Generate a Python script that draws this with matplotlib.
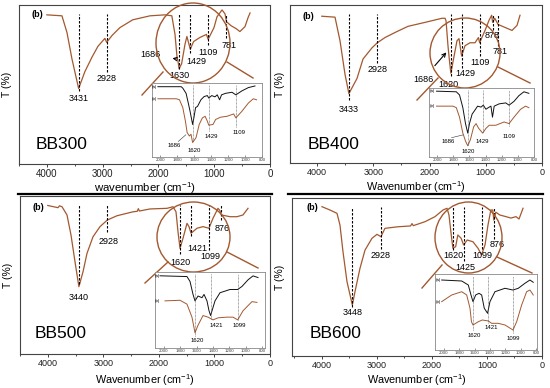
import numpy as np
import matplotlib
matplotlib.use("Agg")
from matplotlib import pyplot as plt
from matplotlib.patches import Ellipse
from matplotlib.ticker import MultipleLocator

plt.rcParams['font.family'] = ['Liberation Sans', 'DejaVu Sans']
plt.rcParams['mathtext.fontset'] = 'custom'
plt.rcParams['mathtext.rm'] = 'Liberation Sans'
plt.rcParams['mathtext.it'] = 'Liberation Sans:italic'
plt.rcParams['mathtext.bf'] = 'Liberation Sans:bold'

W, H = 550, 388
BROWN = "#a3582f"

####################################### main spectra (wavenumber, T) ################################
bb300_wn = [4000, 3730, 3640, 3550, 3431, 3320, 3190, 3085, 2960, 2928, 2830, 2690, 2460, 2150, 1880,
            1760, 1703, 1667, 1650, 1630, 1585, 1524, 1490, 1429, 1370, 1255, 1140, 1109, 1004, 950,
            860, 806, 781, 699, 610, 540, 448, 394, 358]
bb300_t = [93.8, 93.2, 82.7, 66, 47.5, 58, 67.3, 74, 79, 76.5, 80.9, 85.8, 90.7, 93.2, 93.8,
           93.2, 81.5, 67.3, 64.8, 59.9, 63, 75.3, 80.2, 72.2, 77, 79.6, 81.5, 78.4, 85.8, 92.6,
           96.9, 94.4, 89.5, 87, 85.2, 83.3, 86.4, 92, 95]

bb400_wn = [3915, 3680, 3591, 3502, 3433, 3289, 3182, 3022, 2928, 2791, 2613, 2382, 2080, 1778, 1724,
            1706, 1671, 1640, 1620, 1580, 1511, 1475, 1429, 1369, 1280, 1191, 1130, 1109, 1013, 942,
            895, 878, 840, 781, 657, 533, 444, 391]
bb400_t = [92.9, 92.3, 77.4, 56.1, 43.9, 53.5, 65.8, 72.9, 76.1, 79.4, 82.6, 86.5, 89, 91.6, 91.6,
           90, 74, 63, 56.8, 64.5, 77.4, 78.7, 67.7, 74.2, 76.1, 76.1, 79.4, 76.1, 83.9, 90.3,
           93.5, 89, 91.6, 87.7, 85.8, 83.9, 87.1, 93.5]

bb500_wn = [4000, 3816, 3790, 3744, 3654, 3582, 3510, 3440, 3366, 3294, 3186, 3060, 2928, 2754, 2466,
            2390, 2370, 2350, 2160, 1854, 1746, 1692, 1656, 1620, 1566, 1494, 1458, 1421, 1314, 1206,
            1099, 1026, 936, 905, 876, 720, 594, 486, 396]
bb500_t = [94, 92.6, 93.8, 93.2, 88, 75.3, 58.4, 42.6, 52, 63.7, 74.2, 80.6, 84.8, 87.5, 90,
           90.3, 92, 90.5, 91.8, 92.2, 93.2, 90, 77.4, 66.9, 73.2, 82.7, 80.6, 76.4, 79.6, 80.6,
           79.6, 85.9, 92.2, 91, 88, 86.9, 86.9, 88, 92.2]

bb600_wn = [4000, 3855, 3800, 3727, 3673, 3618, 3545, 3448, 3400, 3309, 3218, 3091, 3000, 2928, 2855,
            2618, 2390, 2364, 2340, 2127, 1945, 1800, 1727, 1691, 1650, 1620, 1570, 1530, 1470, 1425,
            1360, 1255, 1164, 1099, 1036, 982, 930, 895, 876, 840, 764, 655, 564, 473, 418, 345]
bb600_t = [94.5, 92.4, 91.5, 90.3, 82.9, 66, 47, 32.3, 40.7, 55.5, 67, 74.5, 77, 75.5, 80.8,
           81.8, 82.3, 83.8, 82.5, 85, 88.2, 92.4, 93.5, 89.2, 76.6, 68.2, 69.2, 76.6, 74.5, 70.3,
           73.4, 72.3, 68.2, 64, 70.3, 82.9, 92.4, 92.4, 86, 91, 89.2, 88.2, 87.3, 88.2, 86.7, 93.5]

####################################### peaks and their labels ################################
bb300_peaks = [3431, 2928, 1630, 1429, 1109, 781]
bb300_dash_lo = [46, 58, 60, 70, 75, 79]
bb300_lab = ["3431", "2928", "1630", "1429", "1109", "781"]
bb300_lab_wn = [3431, 2928, 1630, 1326, 1111, 735]
bb300_lab_t = [41.4, 53.7, 55.6, 64.2, 70.4, 74.7]

bb400_peaks = [3433, 2928, 1620, 1429, 1109, 878, 781]
bb400_dash_lo = [40, 63, 55, 60, 68, 84, 74]
bb400_lab = ["3433", "2928", "1620", "1429", "1109", "878", "781"]
bb400_lab_wn = [3433, 2928, 1660, 1369, 1102, 889, 747]
bb400_lab_t = [34, 59, 49.5, 56.8, 63.9, 80.6, 70.3]

bb500_peaks = [3440, 2928, 1620, 1421, 1099, 876]
bb500_dash_lo = [44, 77, 63, 75, 66, 85]
bb500_lab = ["3440", "2928", "1620", "1421", "1099", "876"]
bb500_lab_wn = [3440, 2910, 1620, 1310, 1080, 864]
bb500_lab_t = [36, 70.9, 57.6, 67, 62, 79.7]

bb600_peaks = [3448, 2928, 1620, 1425, 1099, 876]
bb600_dash_lo = [31, 68, 67, 60, 68, 74]
bb600_lab = ["3448", "2928", "1620", "1425", "1099", "876"]
bb600_lab_wn = [3448, 2928, 1618, 1387, 1080, 820]
bb600_lab_t = [27.8, 63.9, 63.9, 55.7, 63.5, 70.5]

####################################### inset spectra: (a) black, (b) brown ################################
in300_a_wn = [2030, 1755, 1736, 1697, 1667, 1650, 1620, 1605, 1585, 1562, 1522, 1484, 1446, 1429, 1394,
              1356, 1329, 1301, 1278, 1232, 1155, 1109, 1038, 961, 883]
in300_a_t = [95, 95, 93, 86, 70.7, 61.7, 44, 53, 66.7, 68.4, 77.3, 81.7, 83, 79.6, 83,
             81.3, 84, 77.3, 84, 86, 87.5, 84, 89.3, 93.8, 96]
in300_b_wn = [2030, 1813, 1775, 1736, 1705, 1685, 1658, 1639, 1620, 1580, 1542, 1504, 1472, 1446, 1429,
              1379, 1348, 1290, 1213, 1135, 1109, 1038, 961, 903, 864]
in300_b_t = [78.7, 78.7, 77.3, 66.7, 48.4, 33, 28.4, 30.7, 19.6, 26, 44, 52.9, 55, 48.4, 43,
             44, 50.7, 53.8, 55, 58.2, 52.9, 61.7, 72.9, 78.7, 77.3]
in300_peaks = [1620, 1429, 1109]
in300_dash_lo = [22, 35, 40]
in300_lab = ["1686", "1620", "1429", "1109"]
in300_lab_wn = [1833, 1600, 1403, 1077]
in300_lab_t = [16, 9.3, 28, 33]

in400_a_wn = [2007, 1762, 1722, 1681, 1648, 1620, 1599, 1566, 1538, 1498, 1456, 1428, 1395, 1366, 1333,
              1314, 1293, 1232, 1150, 1109, 1048, 987, 925, 864]
in400_a_t = [95.4, 94.5, 89.9, 71.5, 48.4, 34.6, 48.4, 62.2, 66.8, 73.7, 72.3, 75.1, 69.2, 71.5, 73.7,
             57.7, 73.7, 77, 78.4, 75.1, 80.6, 88.9, 94.5, 92.3]
in400_b_wn = [2007, 1804, 1762, 1722, 1681, 1648, 1620, 1587, 1547, 1517, 1485, 1435, 1395, 1354, 1272,
              1170, 1109, 1048, 966, 905, 864]
in400_b_t = [73.7, 73.7, 71.5, 57.7, 34.6, 23.1, 16.2, 25.3, 43.8, 48.4, 41.5, 34.6, 41.5, 46, 46,
             50.8, 48.4, 57.7, 69.2, 73.7, 71.5]
in400_peaks = [1620, 1429, 1109]
in400_dash_lo = [18, 36, 45]
in400_lab = ["1686", "1620", "1429", "1109"]
in400_lab_wn = [1865, 1620, 1436, 1109]
in400_lab_t = [23, 8, 23, 30]

in500_a_wn = [2047, 1718, 1681, 1644, 1620, 1583, 1535, 1510, 1474, 1449, 1430, 1376, 1315, 1193, 1099,
              1047, 973, 912, 851]
in500_a_t = [95, 94, 87.6, 70.5, 62, 68.4, 66.2, 70.5, 62, 49, 42.7, 62, 72.7, 77, 77,
             81, 89.7, 94.9, 92.7]
in500_b_wn = [1986, 1803, 1718, 1657, 1620, 1583, 1522, 1461, 1400, 1339, 1230, 1156, 1099, 1034, 925, 864]
in500_b_t = [62, 62.8, 57.7, 40.6, 20, 30, 42.7, 40.6, 37, 39.7, 40.6, 40.6, 37, 49, 61, 60]
in500_peaks = [1620, 1421, 1099]
in500_dash_lo = [16, 38, 37]
in500_lab = ["1620", "1421", "1099"]
in500_lab_wn = [1596, 1364, 1083]
in500_lab_t = [10.3, 29.5, 29.5]

in600_a_wn = [2028, 1767, 1681, 1646, 1620, 1585, 1542, 1507, 1473, 1430, 1399, 1334, 1203, 1099, 1030,
              943, 878, 835]
in600_a_t = [92.1, 90.8, 85.5, 72.4, 63.6, 72.4, 74.6, 72.4, 54.9, 48.3, 63.6, 76.7, 81.2, 78.9, 81.2,
             87.8, 92.1, 89.1]
in600_b_wn = [2028, 1897, 1767, 1702, 1659, 1640, 1620, 1551, 1499, 1421, 1377, 1291, 1203, 1099, 1051,
              986, 921, 878, 835]
in600_b_t = [63.6, 72.4, 76.7, 72.4, 54.9, 37.2, 32.9, 37.2, 39.5, 38.2, 35.1, 35.1, 32.9, 26.3, 37.2,
             59.2, 76.7, 78.9, 72.4]
in600_peaks = [1620, 1421, 1099]
in600_dash_lo = [26, 35, 22]
in600_lab = ["1620", "1421", "1099"]
in600_lab_wn = [1607, 1386, 1095]
in600_lab_t = [19.7, 29, 14.5]

inset_ticks = [2000, 1800, 1600, 1400, 1200, 1000, 800]
main_ticks = [4000, 3000, 2000, 1000, 0]
############################################################################################

fig = plt.figure(figsize=(W / 100, H / 100), dpi=100)


def px_rect(l, t, r, b):
    return [l / W, 1 - b / H, (r - l) / W, (b - t) / H]


def main_panel(rect, xmax, wn, t, peaks, dash_lo, lab, lab_wn, lab_t, name, name_xy, b_xy,
               xlabel, ylab_x, xlab_y, tick_fs, xlab_fs):
    ax = fig.add_axes(px_rect(*rect), zorder=0)
    ax.plot(wn, t, color=BROWN, lw=0.9)
    ax.vlines(peaks, dash_lo, 94.5, colors="k", linestyles=(0, (2.2, 1.4)), lw=0.8)
    for s, x, y in zip(lab, lab_wn, lab_t):
        ax.text(x, y, s, fontsize=6.5, ha="center", va="center")
    ax.text(b_xy[0], b_xy[1], "(b)", fontsize=6.5, fontweight="bold", ha="center", va="center")
    ax.text(name_xy[0], name_xy[1], name, fontsize=12.5, transform=ax.transAxes, ha="left", va="center")
    ax.set_xlim(xmax, 0)
    ax.set_ylim(0, 100)
    ax.set_yticks([])
    ax.set_xticks(main_ticks)
    ax.xaxis.set_minor_locator(MultipleLocator(500))
    ax.tick_params(axis="x", which="major", direction="out", length=2.5, width=0.6, pad=1.2,
                   labelsize=tick_fs, colors="#222")
    ax.tick_params(axis="x", which="minor", direction="out", length=1.5, width=0.5)
    for sp in ax.spines.values():
        sp.set_color("#444")
        sp.set_linewidth(0.8)
    ax.set_xlabel(xlabel, fontsize=xlab_fs)
    ax.xaxis.set_label_coords(0.5, xlab_y)
    ax.set_ylabel("T (%)", fontsize=7.5)
    ax.yaxis.set_label_coords(ylab_x, 0.5)
    return ax


def inset_panel(rect, xlim, a_wn, a_t, b_wn, b_t, peaks, dash_lo, lab, lab_wn, lab_t, ab_x):
    ax = fig.add_axes(px_rect(*rect), zorder=2)
    ax.set_facecolor("white")
    ax.plot(a_wn, a_t, color="#111", lw=0.7)
    ax.plot(b_wn, b_t, color=BROWN, lw=0.7)
    ax.vlines(peaks, dash_lo, 97, colors="#555", linestyles=(0, (1, 1)), lw=0.5)
    ax.text(ab_x, a_t[0], "(a)", fontsize=3.2, ha="center", va="center")
    ax.text(ab_x, b_t[0], "(b)", fontsize=3.2, ha="center", va="center")
    for s, x, y in zip(lab, lab_wn, lab_t):
        ax.text(x, y, s, fontsize=4.3, ha="center", va="center")
    ax.set_xlim(*xlim)
    ax.set_ylim(0, 100)
    ax.set_yticks([])
    ax.set_xticks(inset_ticks)
    ax.tick_params(axis="x", direction="in", length=1.2, width=0.4, pad=0.8, labelsize=3.2,
                   colors="#444")
    for sp in ax.spines.values():
        sp.set_color("#888")
        sp.set_linewidth(0.6)
    return ax


ax1 = main_panel((19, 5, 270, 164), 4500, bb300_wn, bb300_t, bb300_peaks, bb300_dash_lo,
                 bb300_lab, bb300_lab_wn, bb300_lab_t, "BB300", (0.065, 0.12), (4177, 93.8),
                 r"wavenumber (cm$^{-1}$)", -0.028, -0.104, 7, 8.2)
ax1.annotate("1686", xy=(1667, 66), xytext=(2151, 69), fontsize=6.5, ha="center", va="center",
             arrowprops=dict(arrowstyle="<-", color="k", lw=0.7, shrinkA=7, shrinkB=0))

ax2 = main_panel((290, 5, 542, 163), 4480, bb400_wn, bb400_t, bb400_peaks, bb400_dash_lo,
                 bb400_lab, bb400_lab_wn, bb400_lab_t, "BB400", (0.07, 0.12), (4160, 93),
                 r"Wavenumber (cm$^{-1}$)", -0.02, -0.105, 6.5, 7.8)
ax2.annotate("1686", xy=(1700, 70), xytext=(2115, 53), fontsize=6.5, ha="center", va="center",
             arrowprops=dict(arrowstyle="->", color="k", lw=0.8, shrinkA=6, shrinkB=0))

ax3 = main_panel((20, 196, 270, 354), 4500, bb500_wn, bb500_t, bb500_peaks, bb500_dash_lo,
                 bb500_lab, bb500_lab_wn, bb500_lab_t, "BB500", (0.06, 0.13), (4176, 93),
                 r"Wavenumber (cm$^{-1}$)", -0.028, -0.115, 6.5, 7.8)

ax4 = main_panel((292, 198, 542, 356), 4545, bb600_wn, bb600_t, bb600_peaks, bb600_dash_lo,
                 bb600_lab, bb600_lab_wn, bb600_lab_t, "BB600", (0.07, 0.14), (4182, 94),
                 r"Wavenumber (cm$^{-1}$)", -0.028, -0.105, 6.5, 7.8)

# zoom circles, connector lines and the frame lines between panels
ov = fig.add_axes([0, 0, 1, 1], zorder=1)
ov.set_xlim(0, W)
ov.set_ylim(H, 0)
ov.axis("off")
ov.patch.set_alpha(0)
for cx, cy, w, h in [(193, 43, 74, 80), (465, 53, 70, 70), (193.5, 237, 73, 70), (468.5, 237.5, 67, 71)]:
    ov.add_patch(Ellipse((cx, cy), w, h, fill=False, ec=BROWN, lw=1.0))
for (x1, y1, x2, y2) in [(142, 95, 163, 72), (227, 62, 253, 78), (417, 100, 438, 78), (498, 67, 530, 83),
                         (145, 283, 168, 262), (227, 252, 258, 268), (422, 288, 442, 265),
                         (497, 257, 532, 273)]:
    ov.plot([x1, x2], [y1, y2], color=BROWN, lw=1.0)
ov.plot([18, 272], [194, 194], color="k", lw=1.6)
ov.plot([288, 543], [194, 194], color="k", lw=1.6)

i1 = inset_panel((152, 83, 262, 157), (2100, 820), in300_a_wn, in300_a_t, in300_b_wn, in300_b_t,
                 in300_peaks, in300_dash_lo, in300_lab, in300_lab_wn, in300_lab_t, 2070)
i1.plot([1790, 1700], [21, 30], color="#333", lw=0.4)
i2 = inset_panel((429, 88, 534, 157), (2100, 815), in400_a_wn, in400_a_t, in400_b_wn, in400_b_t,
                 in400_peaks, in400_dash_lo, in400_lab, in400_lab_wn, in400_lab_t, 2060)
i2.plot([1820, 1680], [28, 32], color="#333", lw=0.4)
i3 = inset_panel((155, 272, 265, 348), (2108, 766), in500_a_wn, in500_a_t, in500_b_wn, in500_b_t,
                 in500_peaks, in500_dash_lo, in500_lab, in500_lab_wn, in500_lab_t, 2080)
i4 = inset_panel((435, 274, 537, 350), (2115, 786), in600_a_wn, in600_a_t, in600_b_wn, in600_b_t,
                 in600_peaks, in600_dash_lo, in600_lab, in600_lab_wn, in600_lab_t, 2076)

plt.savefig("out.png", dpi=100)
